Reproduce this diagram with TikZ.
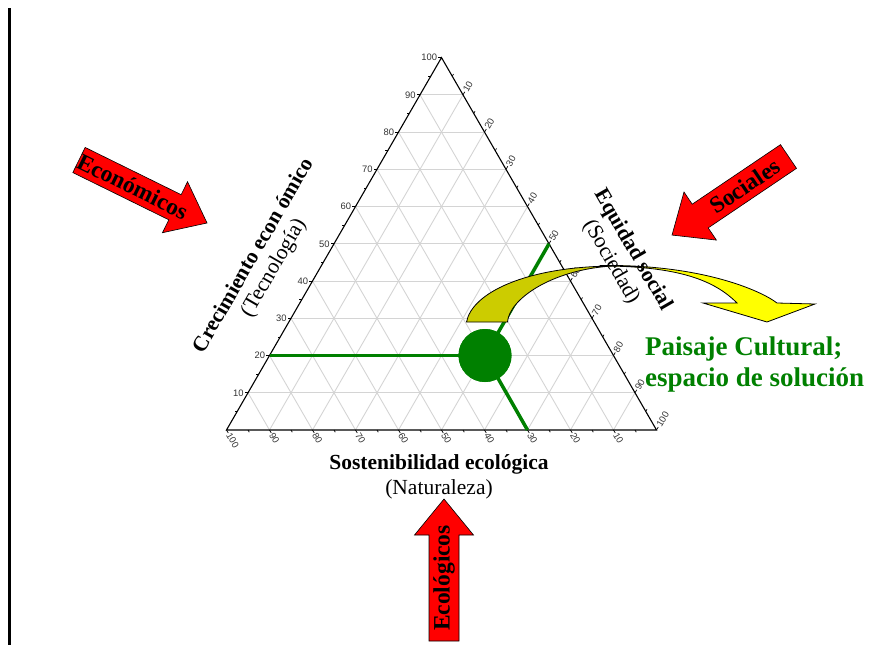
\documentclass[tikz,border=0pt]{standalone}
\usepackage{fontspec}
\setmainfont{Liberation Serif}
\newfontfamily\ticksans{Liberation Sans}
\definecolor{leafgreen}{RGB}{0,128,0}
\definecolor{darkyellow}{RGB}{204,204,0}
\definecolor{brightyellow}{RGB}{255,255,0}
\definecolor{gridgray}{RGB}{212,212,212}
\begin{document}
\begin{tikzpicture}[x=1pt,y=-1pt,
  gridline/.style={draw=gridgray,line width=0.9pt},
  frameedge/.style={draw=black,line width=1.1pt,line join=miter},
  tickmark/.style={draw=black,line width=0.7pt},
  ticklabel/.style={font=\ticksans\fontsize{9.4}{11}\selectfont,text=black!80,inner sep=0.6pt},
  axistitle/.style={font=\bfseries\fontsize{21.5}{24}\selectfont,inner sep=0},
  axissub/.style={font=\fontsize{21.5}{24}\selectfont,inner sep=0},
  redarrow/.style={fill=red,draw=black,line width=0.6pt,line join=miter},
  arrowtext/.style={font=\bfseries\fontsize{23.5}{26}\selectfont,inner sep=0},
  greenpath/.style={draw=leafgreen,line width=3.5pt},
  greentext/.style={font=\bfseries\fontsize{27}{31}\selectfont,text=leafgreen,inner sep=0},
  bendarrow/.style={draw=black,line width=0.8pt,line join=miter}]
\useasboundingbox (0,0) rectangle (870,645);

% left margin rule
\draw[line width=2.5pt] (9.5,8) -- (9.5,645);

% triangle corners
\coordinate (bl) at (226.5,430);
\coordinate (br) at (656.5,430);
\coordinate (tp) at (441.5,57.6);

% ternary grid, every 10 units
\foreach \v in {10,20,...,90} {
  \draw[gridline] ({226.5+2.15*\v},{430-3.724*\v}) -- ({656.5-2.15*\v},{430-3.724*\v});
  \draw[gridline] ({226.5+4.3*(100-\v)},430) -- ({226.5+2.15*(100-\v)},{430-3.724*(100-\v)});
  \draw[gridline] ({226.5+4.3*\v},430) -- ({441.5+2.15*\v},{430-3.724*(100-\v)});
}

% frame
\draw[frameedge] (bl) -- (br) -- (tp) -- cycle;

% left axis ticks
\foreach \v in {10,20,...,100}
  \draw[tickmark] ({226.5+2.15*\v},{430-3.724*\v}) -- ++(-3.5,0)
    node[ticklabel,anchor=east] (left\v) {\v};
\foreach \v in {5,15,...,95}
  \draw[tickmark] ({226.5+2.15*\v},{430-3.724*\v}) -- ++(-2.5,0);

% right axis ticks
\foreach \v in {10,20,...,100}
  \draw[tickmark] ({441.5+2.15*\v},{57.6+3.724*\v}) -- ++(1.75,-3)
    node[ticklabel,anchor=west,rotate=60] (right\v) {\v};
\foreach \v in {5,15,...,95}
  \draw[tickmark] ({441.5+2.15*\v},{57.6+3.724*\v}) -- ++(1.25,-2.2);

% bottom axis ticks
\foreach \v in {10,20,...,100}
  \draw[tickmark] ({226.5+4.3*(100-\v)},430) -- ++(1.75,3)
    node[ticklabel,anchor=west,rotate=-60] (bottom\v) {\v};
\foreach \v in {5,15,...,95}
  \draw[tickmark] ({226.5+4.3*(100-\v)},430) -- ++(1.25,2.2);

% solution point: 20 / 30 / 50
\coordinate (g20) at (269.5,355.5);
\coordinate (g50) at (549,243.8);
\coordinate (g30) at (527.5,430);
\node[circle,fill=leafgreen,minimum size=53pt,inner sep=0] (sol) at (485,355.5) {};
\draw[greenpath] (g20) -- (sol.center);
\draw[greenpath] (g50) -- (sol.center);
\draw[greenpath] (g30) -- (sol.center);
\node[circle,fill=leafgreen,minimum size=53pt,inner sep=0] (solfront) at (sol.center) {};

% axis titles
\node[axistitle,rotate=60] (crec) at (252,255) {Crecimiento econ ómico};
\node[axissub,rotate=60] (tecn) at (274,268) {(Tecnología)};
\node[axistitle,rotate=-60] (equi) at (633,250) {Equidad social};
\node[axissub,rotate=-60] (soci) at (611,262) {(Sociedad)};
\node[axistitle] (sost) at (439,464) {Sostenibilidad ecológica};
\node[axissub] (natu) at (439,489) {(Naturaleza)};

% curved arrow towards the solution label
\draw[bendarrow,fill=brightyellow]
  (600,265.5) .. controls (700,264) and (760,290) .. (777,303)
  -- (815,304) -- (767,322) -- (703,303) -- (737,303)
  .. controls (715,281) and (680,266) .. (600,266) -- cycle;
\draw[bendarrow,fill=darkyellow]
  (466.5,322) -- (507.5,322)
  .. controls (509,300) and (550,270) .. (612,266)
  .. controls (525,267) and (472,293) .. (466.5,322) -- cycle;

% pressure arrows
\begin{scope}[shift={(79,160)},rotate=-26.2]
  \draw[redarrow] (0,-14) -- (107,-14) -- (107,-28.4) -- (142.7,0)
    -- (107,28.4) -- (107,14) -- (0,14) -- cycle;
  \node[arrowtext,rotate=-26.2] (econ) at (60,0) {Económicos};
\end{scope}
\begin{scope}[shift={(788.5,156.5)},rotate=-146]
  \draw[redarrow] (0,-14.3) -- (106.5,-14.3) -- (106.5,-29) -- (140.5,0)
    -- (106.5,29) -- (106.5,14.3) -- (0,14.3) -- cycle;
  \node[arrowtext,rotate=34] (soc) at (52.8,0) {Sociales};
\end{scope}
\begin{scope}[shift={(444,641)},rotate=90]
  \draw[redarrow] (0,-15) -- (106,-15) -- (106,-29.5) -- (142,0)
    -- (106,29.5) -- (106,15) -- (0,15) -- cycle;
  \node[arrowtext,rotate=90] (eco) at (63,0) {Ecológicos};
\end{scope}

% solution label
\node[greentext,anchor=base west] (paisaje) at (645,355) {Paisaje Cultural;};
\node[greentext,anchor=base west] (espacio) at (645,386) {espacio de solución};
\end{tikzpicture}
\end{document}
